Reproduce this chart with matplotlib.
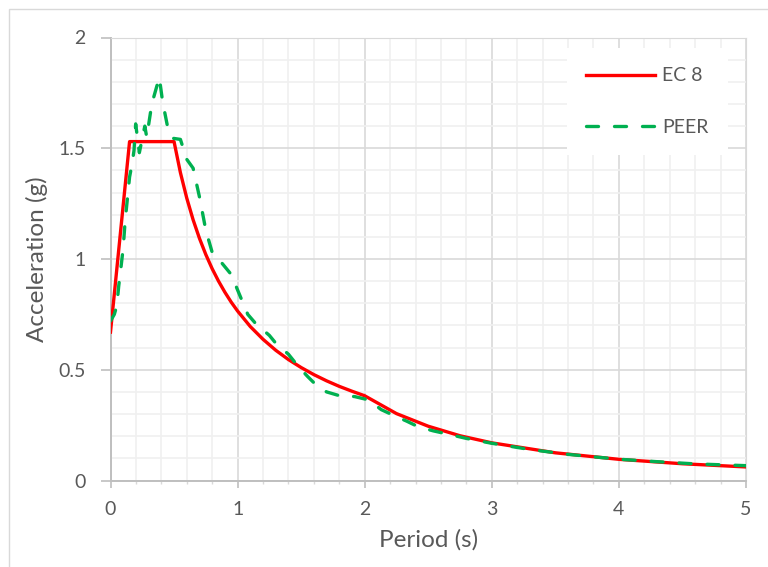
import numpy as np
import matplotlib.pyplot as plt
from matplotlib.ticker import MultipleLocator, FuncFormatter
from matplotlib.patches import Rectangle

# EC 8 design spectrum
ec8_period = [0.0, 0.15, 0.5, 0.55, 0.6, 0.65, 0.7, 0.75, 0.8, 0.85, 0.9, 0.95,
              1.0, 1.1, 1.2, 1.3, 1.4, 1.5, 1.6, 1.7, 1.8, 1.9, 2.0, 2.25, 2.5,
              2.75, 3.0, 3.5, 4.0, 4.5, 5.0]
ec8_accel = [0.67, 1.53, 1.53, 1.39, 1.275, 1.177, 1.093, 1.02, 0.956, 0.9, 0.85, 0.805,
             0.765, 0.695, 0.6375, 0.588, 0.546, 0.51, 0.478, 0.45, 0.425, 0.403, 0.3825,
             0.302, 0.245, 0.202, 0.17, 0.125, 0.0956, 0.0756, 0.0612]

# PEER record spectrum
peer_period = [0.0, 0.03, 0.05, 0.065, 0.08, 0.1, 0.115, 0.15, 0.17, 0.185, 0.198,
               0.227, 0.27, 0.285, 0.325, 0.384, 0.41, 0.455, 0.49, 0.55, 0.6, 0.65,
               0.7, 0.75, 0.8, 0.85, 0.95, 1.0, 1.08, 1.14, 1.25, 1.3, 1.4, 1.47,
               1.55, 1.62, 1.7, 1.8, 1.92, 2.03, 2.13, 2.22, 2.33, 2.42, 2.54, 2.65,
               2.8, 3.0, 3.3, 3.6, 4.0, 4.3, 4.6, 5.0]
peer_accel = [0.72, 0.75, 0.79, 0.88, 0.95, 1.05, 1.17, 1.37, 1.43, 1.49, 1.61,
              1.48, 1.60, 1.55, 1.70, 1.82, 1.71, 1.58, 1.545, 1.54, 1.45, 1.41,
              1.28, 1.13, 1.03, 1.0, 0.93, 0.86, 0.75, 0.71, 0.655, 0.62, 0.57, 0.52,
              0.47, 0.43, 0.40, 0.383, 0.379, 0.364, 0.32, 0.296, 0.268, 0.243, 0.224, 0.21,
              0.19, 0.168, 0.14, 0.118, 0.096, 0.085, 0.075, 0.067]

txt = "#595959"
plt.rcParams["font.family"] = ["Lato", "DejaVu Sans"]

fig = plt.figure(figsize=(7.68, 5.67), dpi=100)
# chart-area border (only its left and top edges fall inside the picture)
fig.patches.append(Rectangle((9 / 768, -0.1), 1.2, 1 - 9 / 567 + 0.1,
                             transform=fig.transFigure, fill=False,
                             edgecolor="#d9d9d9", linewidth=1))
ax = fig.add_axes([110.5 / 768, 1 - 480.5 / 567, (746 - 110.5) / 768, (480.5 - 37.5) / 567])

ax.plot(ec8_period, ec8_accel, color="#ff0000", lw=2.4, label="EC 8",
        solid_joinstyle="round", zorder=3)
ax.plot(peer_period, peer_accel, color="#00b050", lw=2.4, label="PEER",
        dashes=(3.6, 4.8), dash_capstyle="round", zorder=4)

ax.set_xlim(0, 5)
ax.set_ylim(0, 2)
ax.xaxis.set_major_locator(MultipleLocator(1))
ax.xaxis.set_minor_locator(MultipleLocator(0.2))
ax.yaxis.set_major_locator(MultipleLocator(0.5))
ax.yaxis.set_minor_locator(MultipleLocator(0.1))
ax.yaxis.set_major_formatter(FuncFormatter(lambda v, p: "%g" % v))
ax.xaxis.set_major_formatter(FuncFormatter(lambda v, p: "%g" % v))

ax.grid(which="major", color="#d9d9d9", lw=1.2)
ax.grid(which="minor", color="#f0f0f0", lw=1.2)
ax.set_axisbelow(True)

for side in ["top", "right"]:
    ax.spines[side].set_color("#d9d9d9")
for side in ["left", "bottom"]:
    ax.spines[side].set_color("#bfbfbf")
    ax.spines[side].set_linewidth(1.4)

ax.tick_params(axis="y", which="major", length=7, color="#bfbfbf", width=1.2,
               labelsize=14, labelcolor=txt, pad=11)
ax.tick_params(axis="y", which="minor", length=0)
ax.tick_params(axis="x", which="major", length=5, color="#bfbfbf", width=1.2,
               labelsize=14, labelcolor=txt, pad=10)
ax.tick_params(axis="x", which="minor", length=2, color="#d9d9d9", width=1)

ax.set_xlabel("Period (s)", fontsize=17.5, color=txt, va="center")
ax.set_ylabel("Acceleration (g)", fontsize=17.5, color=txt, va="center")
ax.xaxis.set_label_coords(0.5, -0.135)
ax.yaxis.set_label_coords(-0.116, 0.5)

leg = ax.legend(loc="upper left", bbox_to_anchor=(567 / 768, 1 - 48 / 567),
                bbox_transform=fig.transFigure, frameon=True, fancybox=False,
                edgecolor="none", facecolor="white", framealpha=1,
                fontsize=14, handlelength=3.55, labelspacing=1.76,
                borderpad=1.0, handletextpad=0.36, borderaxespad=0)
for t in leg.get_texts():
    t.set_color(txt)

fig.savefig("out.png", dpi=100)
